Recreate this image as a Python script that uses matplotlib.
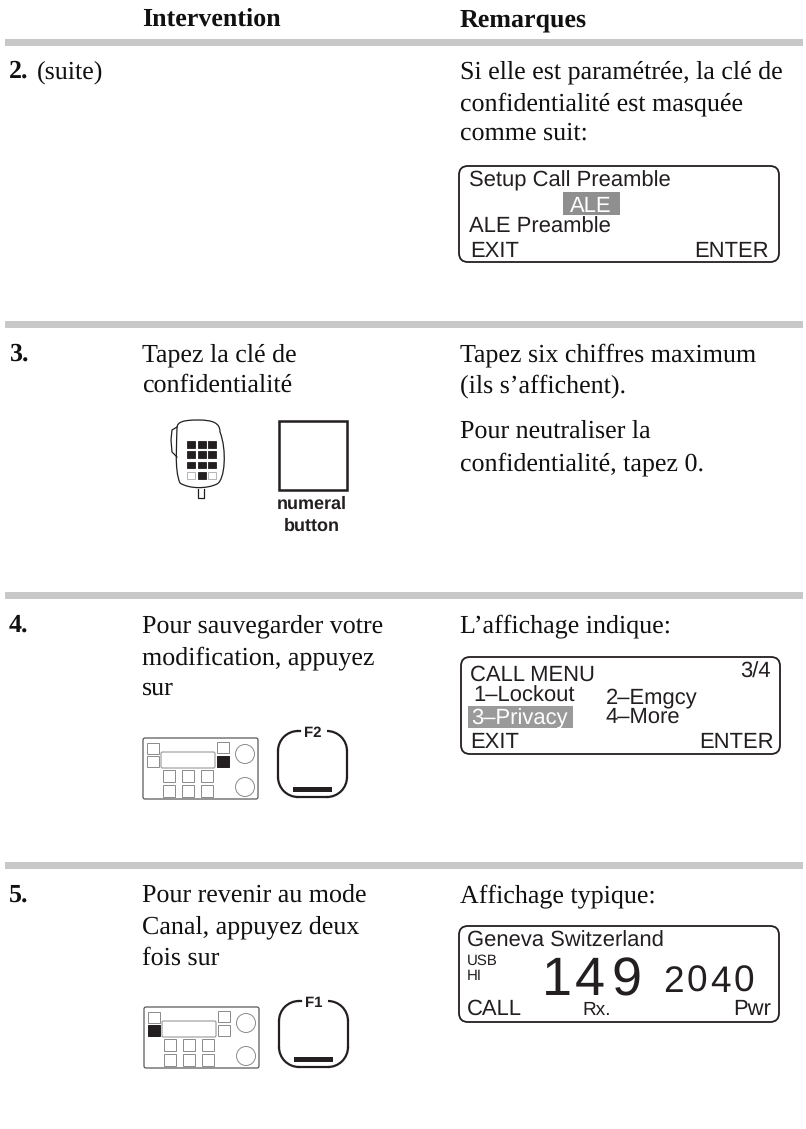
import matplotlib
matplotlib.use('Agg')
import matplotlib.pyplot as plt
from matplotlib.patches import FancyBboxPatch, Rectangle, Circle, Arc, PathPatch
from matplotlib.path import Path

plt.rcParams['text.hinting'] = 'no_hinting'
plt.rcParams['text.hinting_factor'] = 1

# table text
headers = ['Intervention', 'Remarques']
step_numbers = ['2.', '3.', '4.', '5.']
step_y = [78, 361, 632, 902]
col2_lines = [
    (361, 'Tapez la clé de'), (392, 'confidentialité'),
    (632, 'Pour sauvegarder votre'), (664, 'modification, appuyez'), (695, 'sur'),
    (902, 'Pour revenir au mode'), (933, 'Canal, appuyez deux'), (965, 'fois sur'),
]
col3_lines = [
    (78, 'Si elle est paramétrée, la clé de'), (110, 'confidentialité est masquée'),
    (140, 'comme suit:'),
    (361, 'Tapez six chiffres maximum'), (392, '(ils s’affichent).'),
    (438, 'Pour neutraliser la'), (470, 'confidentialité, tapez 0.'),
    (632, 'L’affichage indique:'),
    (902, 'Affichage typique:'),
]
rule_y = [39, 321, 592, 862]
channel = '149'
frequency = '2040'

serif = 'Liberation Serif'
sans = 'Liberation Sans'
ink = '#231f20'
COL2 = 142
COL3 = 460

fig = plt.figure(figsize=(8.06, 11.29), dpi=100)
ax = fig.add_axes([0, 0, 1, 1])
ax.set_xlim(0, 806)
ax.set_ylim(1129, 0)
ax.axis('off')


def body(x, y, s, **kw):
    ax.text(x, y, s, family=serif, fontsize=19, color='#111111', va='baseline', **kw)


def lcd(x, y, w, h):
    ax.add_patch(FancyBboxPatch((x + 9, y + 9), w - 18, h - 18, boxstyle='round,pad=9,rounding_size=9',
                                fc='white', ec=ink, lw=1.3))


def lcd_text(x, y, s, size=15.5, color=ink, **kw):
    ax.text(x, y, s, family=sans, fontsize=size, color=color, va='baseline', **kw)


def radio(x, y, hilite):
    # front panel, x/y are its top left corner
    c = '#8a8a8a'
    ax.add_patch(FancyBboxPatch((x + 1, y + 1), 113, 59, boxstyle='round,pad=1,rounding_size=2', fc='white', ec='#444444', lw=0.8))
    btns = {'tl': (x + 4, y + 5), 'bl': (x + 4, y + 18), 'tr': (x + 74, y + 4), 'br': (x + 74, y + 18)}
    for k, (bx, by) in btns.items():
        on = k == hilite
        ax.add_patch(Rectangle((bx, by), 12, 11, fc=ink if on else 'white', ec=ink if on else c, lw=0.7))
    ax.add_patch(FancyBboxPatch((x + 19, y + 15), 52, 14, boxstyle='round,pad=1,rounding_size=1.5', fc='white', ec=c, lw=0.7))
    for kx in (20, 39, 58):
        for ky in (32, 47):
            ax.add_patch(Rectangle((x + kx, y + ky), 11.5, 11.5, fc='white', ec=c, lw=0.7))
    ax.add_patch(Circle((x + 102, y + 16), 9.5, fc='white', ec=c, lw=0.7))
    ax.add_patch(Circle((x + 102, y + 49), 9.5, fc='white', ec=c, lw=0.7))


def softkey(x, y, label):
    # rounded key outline with a gap at the top for the label
    w, h, r = 69, 66, 20
    lw = 1.6
    ax.plot([x, x], [y + r, y + h - r], color=ink, lw=lw)
    ax.plot([x + w, x + w], [y + r, y + h - r], color=ink, lw=lw)
    ax.plot([x + r, x + w - r], [y + h, y + h], color=ink, lw=lw)
    ax.plot([x + r, x + 22], [y, y], color=ink, lw=lw)
    ax.plot([x + 49, x + w - r], [y, y], color=ink, lw=lw)
    ax.add_patch(Arc((x + r, y + r), 2 * r, 2 * r, theta1=180, theta2=270, color=ink, lw=lw))
    ax.add_patch(Arc((x + w - r, y + r), 2 * r, 2 * r, theta1=270, theta2=360, color=ink, lw=lw))
    ax.add_patch(Arc((x + r, y + h - r), 2 * r, 2 * r, theta1=90, theta2=180, color=ink, lw=lw))
    ax.add_patch(Arc((x + w - r, y + h - r), 2 * r, 2 * r, theta1=0, theta2=90, color=ink, lw=lw))
    ax.text(x + 35, y + 6, label, family=sans, fontsize=11, weight='bold', color=ink, ha='center', va='baseline')
    ax.add_patch(Rectangle((x + 15, y + 56), 39, 4.5, fc=ink, ec='none'))


def mic(x, y):
    # hand microphone with its keypad, x/y is the body top left
    verts = [(x + 6, y + 8), (x + 6, y + 2), (x + 12, y), (x + 27, y), (x + 42, y), (x + 49, y + 3), (x + 49, y + 12),
             (x + 56, y + 30), (x + 54, y + 60), (x + 46, y + 64), (x + 36, y + 69), (x + 18, y + 69), (x + 9, y + 63),
             (x + 3, y + 50), (x + 6, y + 20), (x + 6, y + 8)]
    codes = [Path.MOVETO] + [Path.CURVE4] * 15
    ax.add_patch(PathPatch(Path(verts, codes), fc='white', ec=ink, lw=0.9))
    ax.plot([x + 6, x + 1, x, x + 1, x + 6], [y + 7, y + 10, y + 20, y + 32, y + 37], color=ink, lw=0.9)
    ax.plot([x + 27, x + 27, x + 33, x + 33], [y + 69, y + 78, y + 78, y + 69], color=ink, lw=0.9)
    for row in range(4):
        for col in range(3):
            on = row < 3 or col == 1
            ax.add_patch(Rectangle((x + 16 + col * 10.5, y + 21 + row * 10.4), 8, 6.7,
                                   fc=ink if on else 'white', ec=ink if on else '#aaaaaa', lw=0.6))


# header and rules
ax.text(COL2, 26, headers[0], family=serif, fontsize=19, weight='bold', color='#111111')
ax.text(COL3, 26, headers[1], family=serif, fontsize=19, weight='bold', color='#111111')
for y in rule_y:
    ax.add_patch(Rectangle((5, y), 798, 7, fc='#c8c8c8', ec='none'))

# step numbers
for s, y in zip(step_numbers, step_y):
    ax.text(9, y, s, family=serif, fontsize=19, weight='bold', color='#111111')
body(37, 78, '(suite)')
for y, s in col2_lines:
    body(COL2, y, s)
for y, s in col3_lines:
    body(COL3, y, s)

# display 1
lcd(459, 166, 320, 96)
lcd_text(469, 186, 'Setup Call Preamble', size=15.7)
ax.add_patch(Rectangle((563, 192), 57, 23, fc='#8f8f8f', ec='none'))
lcd_text(570, 212, 'ALE', color='white')
lcd_text(469, 233, 'ALE Preamble', size=15.7)
lcd_text(470, 257, 'EXIT')
lcd_text(769, 257, 'ENTER', ha='right')

# display 2
lcd(461, 657, 319, 97)
lcd_text(470, 681, 'CALL MENU')
lcd_text(771, 678, '3/4', ha='right')
lcd_text(473, 702, '1–Lockout')
lcd_text(606, 703, '2–Emgcy')
ax.add_patch(Rectangle((468, 706), 105, 22, fc='#9a9a9a', ec='none'))
lcd_text(471, 724, '3–Privacy', color='white')
lcd_text(606, 723, '4–More')
lcd_text(470, 748, 'EXIT')
lcd_text(774, 748, 'ENTER', ha='right')

# display 3
lcd(459, 926, 320, 96)
lcd_text(467, 947, 'Geneva Switzerland')
lcd_text(467, 965, 'USB', size=11)
lcd_text(467, 980, 'HI', size=11)
for x, ch in zip((542, 575, 611), channel):
    lcd_text(x, 995, ch, size=39)
for x, ch in zip((663, 687, 710, 734), frequency):
    lcd_text(x, 992, ch, size=26.6)
lcd_text(467, 1015, 'CALL', size=16)
lcd_text(582, 1015, 'Rx.', size=14)
lcd_text(771, 1015, 'Pwr', size=16, ha='right')

# step 3 icons
mic(171, 420)
ax.add_patch(Rectangle((278.5, 421), 68.5, 69, fc='white', ec=ink, lw=1.8))
ax.text(311.5, 509, 'numeral', family=sans, fontsize=13, weight='bold', color=ink, ha='center')
ax.text(311.5, 531, 'button', family=sans, fontsize=13, weight='bold', color=ink, ha='center')

# step 4 icons
radio(143, 738, 'br')
softkey(278, 731, 'F2')

# step 5 icons
radio(144, 1007, 'bl')
softkey(279, 1001, 'F1')

fig.savefig('out.png', dpi=100)
